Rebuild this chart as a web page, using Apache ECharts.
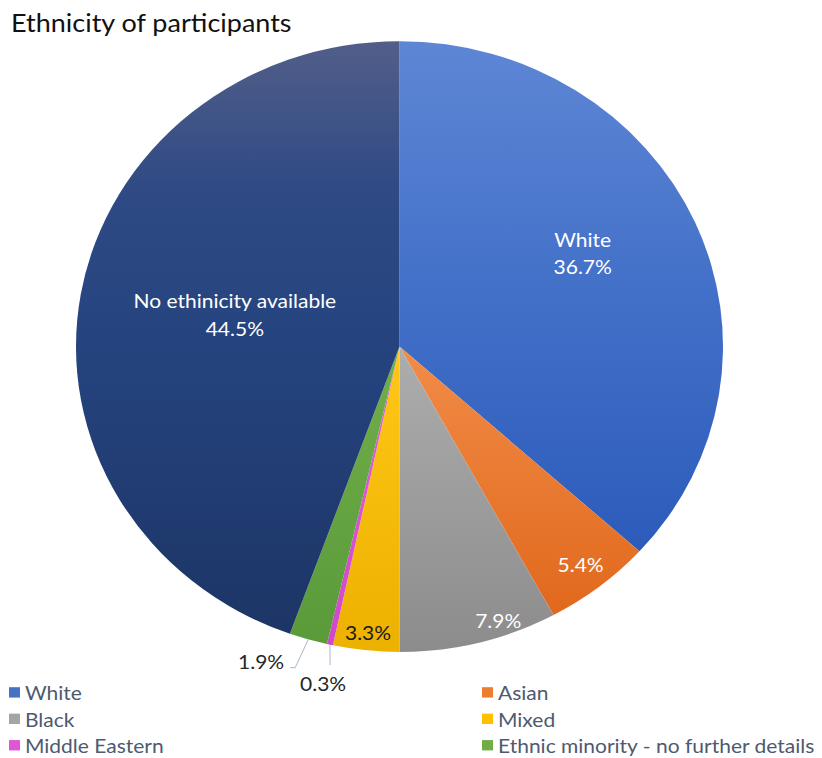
<!DOCTYPE html>
<html>
<head>
<meta charset="utf-8">
<title>Ethnicity of participants</title>
<script src="https://cdn.jsdelivr.net/npm/echarts@6/dist/echarts.min.js"></script>
<style>
  html, body { margin: 0; padding: 0; background: #ffffff; overflow: hidden; }
  /* The chart is laid out on a taller canvas and squeezed vertically,
     which gives the pie its slightly oval shape. */
  #chart { width: 822px; height: 812px; transform: scaleY(0.94396); transform-origin: 0 0; }
</style>
</head>
<body>
<div id="chart"></div>
<script>
// ---- data ----
const categories = [
  'White',
  'Asian',
  'Black',
  'Mixed',
  'Middle Eastern',
  'Ethnic minority - no further details',
  'No ethinicity available'
];
const shares = [36.7, 5.4, 7.9, 3.3, 0.3, 1.9, 44.5];
const namedSlices = ['White', 'No ethinicity available'];
const legendLeftColumn = ['White', 'Black', 'Middle Eastern'];
const legendRightColumn = ['Asian', 'Mixed', 'Ethnic minority - no further details'];

// ---- styling ----
const sliceGradients = [
  [[0, '#5E86D5'], [0.5, '#4270C8'], [1, '#2C5BBB']],
  [[0, '#F18C48'], [1, '#E1681C']],
  [[0, '#ADADAD'], [1, '#8C8C8C']],
  [[0, '#FFC717'], [1, '#EDB100']],
  [[0, '#E462DB'], [1, '#CF48C8']],
  [[0, '#70AF4A'], [1, '#5A9A39']],
  [[0, '#525E89'], [0.25, '#2F4A84'], [0.5, '#25447F'], [1, '#1D3566']]
];
const legendSwatch = ['#4472C4', '#ED7D31', '#A5A5A5', '#FFC000', '#DE57D6', '#70AD47', '#203864'];
const labelColors = ['#ffffff', '#ffffff', '#ffffff', '#1a1a1a', '#262626', '#262626', '#ffffff'];

// pie geometry (in the unsqueezed chart space)
const CX = 399.5, CY = 367.1, R = 323.5;

// label placement: inside labels use a radial fraction and angle nudge,
// outside labels get a leader line (edge -> elbow -> tail) and a text offset
const placements = [
  { kind: 'inside', r: 0.644, da: -4.5 },
  { kind: 'inside', r: 0.906, da: 0 },
  { kind: 'inside', r: 0.946, da: -4.6 },
  { kind: 'inside', r: 0.94, da: 0 },
  { kind: 'outside', r: 1.065, da: -0.8, tail: [0, 0], text: [-7, 19], align: 'center' },
  { kind: 'outside', r: 1.10, da: 0.67, tail: [-5, 0], text: [-6, -7], align: 'right' },
  { kind: 'inside', r: 0.52, da: 1.9 }
];

const total = shares.reduce((a, b) => a + b, 0);
const midAngles = [];
let acc = 0;
shares.forEach(v => { midAngles.push((acc + v / 2) / total * 360); acc += v; });

function polar(deg, r) {
  const a = deg * Math.PI / 180;
  return [CX + R * r * Math.sin(a), CY - R * r * Math.cos(a)];
}

const pieData = categories.map((name, i) => ({
  name: name,
  value: shares[i],
  itemStyle: {
    color: new echarts.graphic.LinearGradient(0, 0, 0, 1,
      sliceGradients[i].map(s => ({ offset: s[0], color: s[1] })))
  },
  label: {
    position: placements[i].kind === 'inside' ? 'inside' : 'outside',
    color: labelColors[i]
  },
  labelLine: { show: placements[i].kind !== 'inside' }
}));

const legendItem = name => ({
  name: name,
  icon: 'rect',
  itemStyle: { color: legendSwatch[categories.indexOf(name)] }
});

const legendBase = {
  orient: 'vertical',
  top: 723,
  itemWidth: 11,
  itemHeight: 11,
  itemGap: 7,
  padding: 0,
  selectedMode: false,
  textStyle: { fontFamily: 'Lato', fontSize: 21, color: '#4D5A70', lineHeight: 21 }
};

const chart = echarts.init(document.getElementById('chart'), null, { renderer: 'svg' });
chart.setOption({
  animation: false,
  backgroundColor: '#ffffff',
  title: {
    text: 'Ethnicity of participants',
    left: 11,
    top: 8.3,
    padding: 0,
    textStyle: { fontFamily: 'Lato', fontSize: 27, fontWeight: 'normal', color: '#111111', lineHeight: 30 }
  },
  legend: [
    Object.assign({}, legendBase, { left: 9, data: legendLeftColumn.map(legendItem) }),
    Object.assign({}, legendBase, { left: 482, data: legendRightColumn.map(legendItem) })
  ],
  series: [{
    type: 'pie',
    center: [CX, CY],
    radius: [0, R],
    startAngle: 90,
    clockwise: true,
    silent: true,
    avoidLabelOverlap: false,
    data: pieData,
    label: {
      fontFamily: 'Lato',
      fontSize: 21,
      lineHeight: 29,
      align: 'center',
      formatter: p => (namedSlices.indexOf(p.name) >= 0 ? p.name + '\n' : '') + p.value.toFixed(1) + '%'
    },
    labelLine: {
      lineStyle: { color: '#A3B4CD', width: 1 }
    },
    labelLayout: params => {
      const i = params.dataIndex;
      const p = placements[i];
      const mid = midAngles[i];
      if (p.kind === 'inside') {
        const pt = polar(mid + p.da, p.r);
        return { x: pt[0], y: pt[1], align: 'center', verticalAlign: 'middle' };
      }
      const s = polar(mid, 1);
      const e = polar(mid + p.da, p.r);
      const t = [e[0] + p.tail[0], e[1] + p.tail[1]];
      return {
        x: t[0] + p.text[0],
        y: t[1] + p.text[1],
        align: p.align,
        verticalAlign: 'middle',
        labelLinePoints: [s, e, t]
      };
    }
  }]
});
</script>
</body>
</html>
